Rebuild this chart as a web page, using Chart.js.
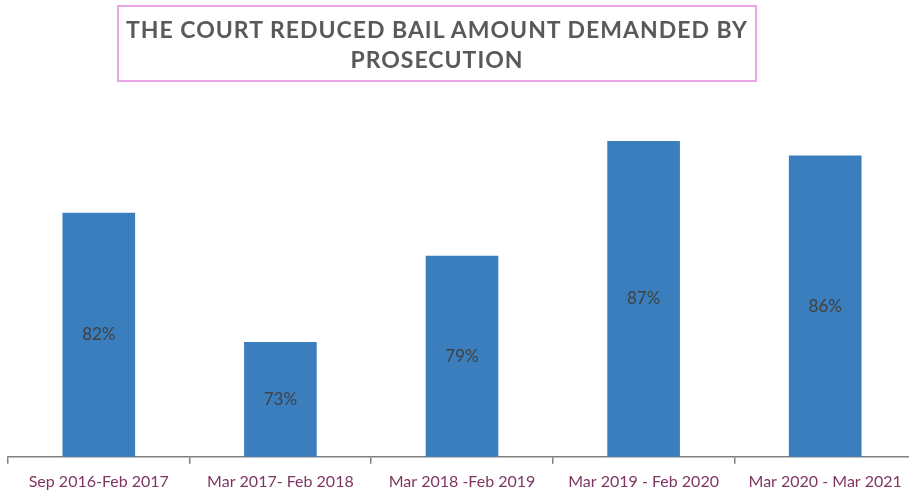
<!DOCTYPE html>
<html>
<head>
<meta charset="utf-8">
<script src="https://cdn.jsdelivr.net/npm/chart.js@4/dist/chart.umd.min.js"></script>
<style>
  html, body { margin: 0; padding: 0; background: #fff; overflow: hidden; width: 909px; height: 493px; }
  #wrap { position: relative; width: 916px; height: 493px; overflow: hidden; }
  #title {
    position: absolute; left: 117px; top: 5px; width: 636px; height: 73px;
    border: 2px solid #e8a6e8; box-sizing: content-box;
    font-family: Lato, "Open Sans", sans-serif; font-weight: bold; font-size: 23px;
    letter-spacing: 1px;
    color: #595959; text-align: center; line-height: 30px;
    display: flex; align-items: center; justify-content: center;
  }
  canvas { position: absolute; left: 0; top: 0; }
</style>
</head>
<body>
<div id="wrap">
  <canvas id="c" width="916" height="499"></canvas>
  <div id="title">THE COURT REDUCED BAIL AMOUNT DEMANDED BY<br>PROSECUTION</div>
</div>
<script>
// Periods and share of cases where the court reduced the bail amount (%)
const periods = [
  'Sep 2016-Feb 2017',
  'Mar 2017- Feb 2018',
  'Mar 2018 -Feb 2019',
  'Mar 2019 - Feb 2020',
  'Mar 2020 - Mar 2021'
];
const reducedShare = [82, 73, 79, 87, 86];

// Writes each value in the vertical middle of the visible part of its bar
const midLabels = {
  id: 'midLabels',
  afterDraw(chart) {
    const ctx = chart.ctx;
    const meta = chart.getDatasetMeta(0);
    const bottom = chart.chartArea.bottom;
    ctx.save();
    ctx.font = '17px Lato, sans-serif';
    ctx.fillStyle = '#404040';
    ctx.textAlign = 'center';
    ctx.textBaseline = 'middle';
    meta.data.forEach((bar, i) => {
      const p = bar.getProps(['x', 'y', 'base'], true);
      const base = Math.min(p.base, bottom);
      ctx.fillText(String(reducedShare[i]) + '%', p.x, (p.y + base) / 2);
    });
    ctx.restore();
  }
};

new Chart(document.getElementById('c'), {
  type: 'bar',
  data: {
    labels: periods,
    datasets: [{
      data: reducedShare,
      backgroundColor: '#3a7ebe',
      borderWidth: 0,
      categoryPercentage: 1,
      barPercentage: 0.4
    }]
  },
  options: {
    responsive: false,
    animation: false,
    layout: { padding: { top: 98, left: 8, right: 0, bottom: 0 } },
    plugins: { legend: { display: false }, tooltip: { enabled: false }, title: { display: false } },
    scales: {
      y: { display: false, min: 65, max: 90 },
      x: {
        offset: true,
        grid: { drawOnChartArea: false, offset: true, tickLength: 7, color: '#808080', lineWidth: 1.5 },
        border: { color: '#808080', width: 1.5 },
        ticks: {
          color: '#7f3561',
          font: { family: 'Lato, "Open Sans", sans-serif', size: 16 },
          maxRotation: 0,
          padding: 8
        }
      }
    }
  },
  plugins: [midLabels]
});
</script>
</body>
</html>
